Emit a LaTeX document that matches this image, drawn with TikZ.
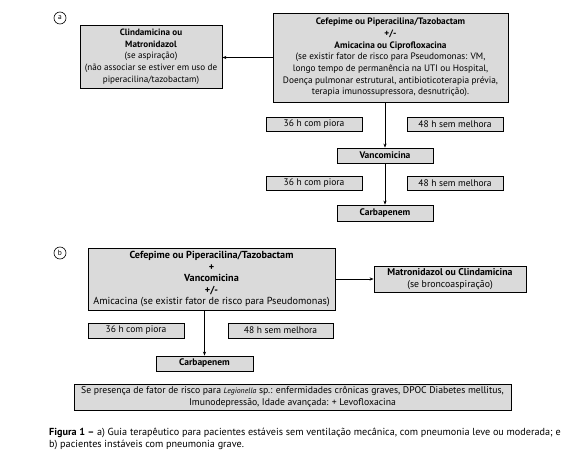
\documentclass[tikz,border=0pt]{standalone}
\usepackage{fontspec}
\setmainfont{PT Sans}
\usetikzlibrary{arrows.meta}
\definecolor{boxgray}{RGB}{218,218,218}
\newcommand{\fsz}[1]{\fontsize{#1}{11.7}\selectfont}
\begin{document}
\begin{tikzpicture}[x=1pt,y=-1pt,
  box/.style={draw=black, line width=0.8pt, fill=boxgray, align=center, inner sep=0pt,
    font=\fsz{9.5}},
  lbl/.style={box, minimum width=96pt, minimum height=14pt},
  arr/.style={-{Stealth[length=4pt,width=3.2pt]}, line width=0.8pt},
  tag/.style={circle, draw=black, line width=0.6pt, inner sep=0pt, minimum size=12pt,
    font=\fontsize{7.5}{7.5}\selectfont}]
\useasboundingbox (0,0) rectangle (568,452);
% ---------- part a ----------
\node[tag] (ta) at (60,18) {a};
\node[box, minimum width=142pt, minimum height=63pt, font=\fsz{9.1}] (A1) at (151,56.5)
  {\textbf{Clindamicina ou}\\ \textbf{Matronidazol}\\ (se aspiração)\\
   (não associar se estiver em uso de\\ piperacilina/tazobactam)};
\node[box, minimum width=235pt, minimum height=89pt, font=\fsz{9.3}] (A2) at (390.5,57.5)
  {\textbf{Cefepime ou Piperacilina/Tazobactam}\\ \textbf{+/-}\\
   \textbf{Amicacina ou Ciprofloxacina}\\
   (se existir fator de risco para Pseudomonas: VM,\\
   longo tempo de permanência na UTI ou Hospital,\\
   Doença pulmonar estrutural, antibioticoterapia prévia,\\
   terapia imunossupressora, desnutrição).};
\node[lbl] (L1) at (314,124) {36 h com piora};
\node[lbl] (R1) at (455,124) {48 h sem melhora};
\node[box, minimum width=96pt, minimum height=15pt] (V) at (385,155.5) {\textbf{Vancomicina}};
\node[lbl] (L2) at (314,183) {36 h com piora};
\node[lbl] (R2) at (455,183) {48 h sem melhora};
\node[box, minimum width=96pt, minimum height=16pt] (C1) at (385,213) {\textbf{Carbapenem}};
\draw[arr] (A2.west) -- (A2.west -| A1.east);
\draw[arr] (V.north |- A2.south) -- (V.north);
\draw[arr] (V.south) -- (C1.north);
% ---------- part b ----------
\node[tag] (tb) at (60,253) {b};
\node[box, minimum width=247pt, minimum height=62pt, font=\fontsize{10.2}{11.5}\selectfont] (B) at (211.5,279)
  {\textbf{Cefepime ou Piperacilina/Tazobactam}\\ \textbf{+}\\ \textbf{Vancomicina}\\
   \textbf{+/-}\\ Amicacina (se existir fator de risco para Pseudomonas)};
\node[box, minimum width=152pt, minimum height=26pt, font=\fsz{9.8}] (M) at (450,279)
  {\textbf{Matronidazol ou Clindamicina}\\ (se broncoaspiração)};
\node[lbl, minimum height=15pt] (L3) at (136,330.5) {36 h com piora};
\node[lbl, minimum width=105pt, minimum height=15pt] (R3) at (280.5,330.5) {48 h sem melhora};
\node[box, minimum width=97pt, minimum height=15pt] (C2) at (204.5,363.5) {\textbf{Carbapenem}};
\node[box, minimum width=437pt, minimum height=26pt, font=\fsz{9.7}] (D) at (292.5,397)
  {Se presença de fator de risco para {\fontsize{7.8}{7.8}\selectfont\textit{Legionella}} sp.: enfermidades crônicas graves, DPOC Diabetes mellitus,\\
   Imunodepressão, Idade avançada: + Levofloxacina};
\draw[arr] (B.east) -- (M.west);
\draw[arr] (C2.north |- B.south) -- (C2.north);
% ---------- caption ----------
\node[anchor=north west, align=left, inner sep=0pt, font=\fontsize{10.2}{11.5}\selectfont] (cap) at (49,428)
  {\textbf{Figura 1 –} a) Guia terapêutico para pacientes estáveis sem ventilação mecânica, com pneumonia leve ou moderada; e\\
   b) pacientes instáveis com pneumonia grave.};
\end{tikzpicture}
\end{document}
